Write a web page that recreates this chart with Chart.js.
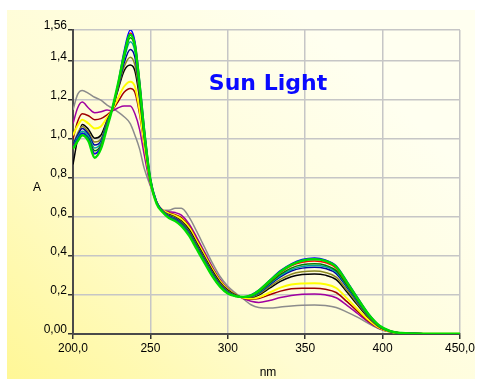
<!DOCTYPE html>
<html>
<head>
<meta charset="utf-8">
<script src="https://cdn.jsdelivr.net/npm/chart.js@4.4.1/dist/chart.umd.min.js"></script>
<style>
  html, body { margin: 0; padding: 0; background: #ffffff; }
  #spectra { display: block; }
</style>
</head>
<body>
<canvas id="spectra" width="483" height="379"></canvas>
<script>
"use strict";

// wavelength grid (nm) shared by all scans
const wavelengths = [200, 203, 206, 210, 214, 218, 222, 225, 229, 233, 237,
    240, 243, 246, 250, 254, 258,
    262, 266, 270, 275, 280, 285, 290, 295, 300, 305, 310,
    315, 320, 327, 334, 341, 348, 356, 363, 370, 377, 384, 391, 398, 405, 412, 420, 435, 450];

// absorbance of each scan, named after its trace colour
const absGreen = [0.95, 0.99, 1.02, 0.99, 0.905, 0.95, 1.06, 1.145, 1.28, 1.43, 1.535,
    1.48, 1.28, 1.04, 0.79, 0.67, 0.625,
    0.595, 0.58, 0.555, 0.505, 0.435, 0.365, 0.297, 0.243, 0.208, 0.194, 0.19,
    0.198, 0.222, 0.272, 0.32, 0.355, 0.376, 0.383, 0.375, 0.345, 0.265, 0.18, 0.1, 0.042, 0.015, 0.005, 0.002, 0.001, 0.001];
const absBlue = [0.96, 1.00, 1.03, 1.00, 0.925, 0.96, 1.07, 1.145, 1.28, 1.45, 1.56,
    1.50, 1.30, 1.06, 0.80, 0.68, 0.63,
    0.60, 0.585, 0.56, 0.51, 0.44, 0.37, 0.30, 0.245, 0.21, 0.195, 0.19,
    0.20, 0.225, 0.275, 0.325, 0.36, 0.382, 0.39, 0.38, 0.35, 0.27, 0.185, 0.103, 0.043, 0.015, 0.005, 0.002, 0.001, 0.001];
const absRed = [0.97, 0.99, 1.02, 0.995, 0.925, 0.96, 1.07, 1.145, 1.27, 1.43, 1.545,
    1.49, 1.29, 1.05, 0.795, 0.675, 0.63,
    0.60, 0.585, 0.56, 0.51, 0.44, 0.37, 0.30, 0.245, 0.21, 0.195, 0.19,
    0.197, 0.22, 0.268, 0.315, 0.35, 0.368, 0.375, 0.367, 0.338, 0.26, 0.178, 0.099, 0.041, 0.015, 0.005, 0.002, 0.001, 0.001];
const absDarkGreen = [0.96, 1.00, 1.03, 1.005, 0.94, 0.97, 1.075, 1.145, 1.27, 1.42, 1.52,
    1.47, 1.28, 1.04, 0.79, 0.675, 0.63,
    0.60, 0.587, 0.563, 0.513, 0.443, 0.373, 0.303, 0.247, 0.211, 0.195, 0.189,
    0.195, 0.216, 0.262, 0.306, 0.338, 0.355, 0.36, 0.353, 0.325, 0.25, 0.171, 0.095, 0.04, 0.014, 0.005, 0.002, 0.001, 0.001];
const absTeal = [0.96, 1.01, 1.04, 1.015, 0.955, 0.98, 1.08, 1.145, 1.27, 1.41, 1.50,
    1.45, 1.27, 1.04, 0.79, 0.675, 0.63,
    0.603, 0.59, 0.566, 0.517, 0.447, 0.377, 0.307, 0.25, 0.213, 0.196, 0.189,
    0.194, 0.213, 0.257, 0.30, 0.33, 0.346, 0.352, 0.345, 0.318, 0.245, 0.167, 0.093, 0.039, 0.014, 0.005, 0.002, 0.001, 0.001];
const absNavy = [0.97, 1.02, 1.055, 1.025, 0.97, 0.99, 1.085, 1.145, 1.26, 1.39, 1.46,
    1.42, 1.25, 1.03, 0.79, 0.675, 0.63,
    0.606, 0.593, 0.57, 0.522, 0.452, 0.382, 0.312, 0.254, 0.216, 0.197, 0.189,
    0.193, 0.21, 0.252, 0.293, 0.323, 0.338, 0.343, 0.336, 0.31, 0.239, 0.163, 0.091, 0.038, 0.014, 0.005, 0.002, 0.001, 0.001];
const absOlive = [0.97, 1.03, 1.065, 1.035, 0.985, 1.00, 1.09, 1.145, 1.26, 1.37, 1.42,
    1.38, 1.23, 1.02, 0.79, 0.675, 0.63,
    0.61, 0.597, 0.575, 0.528, 0.458, 0.388, 0.318, 0.259, 0.22, 0.198, 0.188,
    0.19, 0.205, 0.243, 0.28, 0.307, 0.319, 0.323, 0.316, 0.292, 0.225, 0.154, 0.086, 0.036, 0.013, 0.005, 0.002, 0.001, 0.001];
const absBlack = [0.87, 1.00, 1.075, 1.05, 1.005, 1.02, 1.095, 1.145, 1.25, 1.35, 1.38,
    1.35, 1.21, 1.01, 0.785, 0.675, 0.63,
    0.613, 0.60, 0.58, 0.535, 0.465, 0.395, 0.325, 0.265, 0.225, 0.20, 0.188,
    0.188, 0.20, 0.235, 0.27, 0.294, 0.305, 0.308, 0.302, 0.279, 0.215, 0.147, 0.083, 0.035, 0.013, 0.004, 0.002, 0.001, 0.001];
const absYellow = [1.02, 1.07, 1.10, 1.08, 1.055, 1.065, 1.11, 1.145, 1.21, 1.27, 1.295,
    1.27, 1.15, 0.98, 0.78, 0.675, 0.635,
    0.618, 0.607, 0.59, 0.546, 0.476, 0.404, 0.333, 0.271, 0.228, 0.201, 0.186,
    0.182, 0.188, 0.213, 0.238, 0.254, 0.259, 0.26, 0.255, 0.236, 0.183, 0.126, 0.072, 0.031, 0.012, 0.004, 0.002, 0.001, 0.001];
const absMaroon = [1.00, 1.09, 1.13, 1.12, 1.10, 1.105, 1.125, 1.145, 1.19, 1.24, 1.26,
    1.24, 1.13, 0.97, 0.78, 0.675, 0.635,
    0.622, 0.612, 0.597, 0.553, 0.483, 0.41, 0.338, 0.275, 0.23, 0.202, 0.185,
    0.178, 0.182, 0.201, 0.22, 0.232, 0.235, 0.235, 0.23, 0.213, 0.166, 0.115, 0.066, 0.029, 0.011, 0.004, 0.002, 0.001, 0.001];
const absPurple = [1.08, 1.16, 1.19, 1.16, 1.135, 1.14, 1.15, 1.145, 1.16, 1.17, 1.17,
    1.13, 1.05, 0.92, 0.765, 0.675, 0.635,
    0.628, 0.623, 0.61, 0.565, 0.495, 0.42, 0.345, 0.28, 0.233, 0.203, 0.182,
    0.168, 0.162, 0.172, 0.187, 0.198, 0.204, 0.205, 0.201, 0.186, 0.147, 0.104, 0.061, 0.028, 0.011, 0.004, 0.002, 0.001, 0.001];
const absGray = [1.15, 1.23, 1.25, 1.235, 1.215, 1.20, 1.175, 1.16, 1.14, 1.115, 1.08,
    1.02, 0.95, 0.85, 0.76, 0.68, 0.635,
    0.635, 0.645, 0.645, 0.60, 0.525, 0.445, 0.365, 0.295, 0.245, 0.21, 0.18,
    0.15, 0.136, 0.133, 0.138, 0.144, 0.148, 0.149, 0.146, 0.136, 0.112, 0.085, 0.054, 0.026, 0.01, 0.004, 0.002, 0.001, 0.001];

// axis ticks and their printed labels
const xTicks = [200, 250, 300, 350, 400, 450];
const xTickLabels = ['200,0', '250', '300', '350', '400', '450,0'];
const yTicks = [0, 0.2, 0.4, 0.6, 0.8, 1.0, 1.2, 1.4, 1.56];
const yTickLabels = ['0,00', '0,2', '0,4', '0,6', '0,8', '1,0', '1,2', '1,4', '1,56'];

const FONT = "'Liberation Sans', Arial, sans-serif";

// first entry is drawn last, so green sits on top
const traces = [
    { values: absGreen, color: '#00dd00', width: 2.5 },
    { values: absBlue, color: '#0000ff', width: 1.5 },
    { values: absRed, color: '#ff0000', width: 1.5 },
    { values: absDarkGreen, color: '#008000', width: 1.5 },
    { values: absTeal, color: '#00a0a0', width: 1.5 },
    { values: absNavy, color: '#0000a0', width: 1.5 },
    { values: absOlive, color: '#8a8a20', width: 1.5 },
    { values: absBlack, color: '#000000', width: 1.5 },
    { values: absYellow, color: '#ffff00', width: 2 },
    { values: absMaroon, color: '#a00000', width: 1.5 },
    { values: absPurple, color: '#a000a0', width: 1.5 },
    { values: absGray, color: '#8c8c8c', width: 1.5 }
];

const datasets = traces.map(t => ({
    data: wavelengths.map((x, i) => ({ x: x, y: t.values[i] })),
    borderColor: t.color,
    borderWidth: t.width,
    pointRadius: 0,
    fill: false,
    cubicInterpolationMode: 'monotone'
}));

// yellow-to-cream panel behind the whole chart
const panelBackground = {
    id: 'panelBackground',
    beforeDraw(chart) {
        const ctx = chart.ctx;
        ctx.save();
        ctx.fillStyle = '#ffffff';
        ctx.fillRect(0, 0, chart.width, chart.height);
        const g = ctx.createLinearGradient(7, 379, 330, 40);
        g.addColorStop(0, '#fff796');
        g.addColorStop(0.45, '#fffcd2');
        g.addColorStop(1, '#fffff0');
        ctx.fillStyle = g;
        ctx.fillRect(7, 10, 468, 369);
        ctx.restore();
    }
};

// axis names and the caption inside the plot
const chartTexts = {
    id: 'chartTexts',
    afterDraw(chart) {
        const ctx = chart.ctx;
        ctx.save();
        ctx.fillStyle = '#000000';
        ctx.font = '12px ' + FONT;
        ctx.textAlign = 'center';
        ctx.textBaseline = 'middle';
        ctx.fillText('A', 37, 188);
        ctx.fillText('nm', 268, 373);
        ctx.fillStyle = '#0a0aff';
        ctx.font = "bold 22px 'DejaVu Sans', sans-serif";
        ctx.textBaseline = 'alphabetic';
        ctx.fillText('Sun Light', 268, 90);
        ctx.restore();
    }
};

new Chart(document.getElementById('spectra'), {
    type: 'line',
    data: { datasets: datasets },
    plugins: [panelBackground, chartTexts],
    options: {
        responsive: false,
        animation: false,
        layout: { padding: { left: 0, top: 30, right: 23, bottom: 0 } },
        plugins: {
            legend: { display: false },
            tooltip: { enabled: false }
        },
        scales: {
            x: {
                type: 'linear',
                min: 200,
                max: 450,
                afterBuildTicks: scale => { scale.ticks = xTicks.map(v => ({ value: v })); },
                afterFit: scale => { scale.height = 45; },
                ticks: {
                    autoSkip: false,
                    maxRotation: 0,
                    padding: 2,
                    color: '#000000',
                    font: { family: FONT, size: 12 },
                    callback: (v, i) => xTickLabels[i]
                },
                grid: { color: '#c6c6c6', lineWidth: 1.5, tickColor: '#333333', tickLength: 5 },
                border: { color: '#4a4a4a', width: 2 }
            },
            y: {
                min: 0,
                max: 1.56,
                afterBuildTicks: scale => { scale.ticks = yTicks.map(v => ({ value: v })); },
                afterFit: scale => { scale.width = 73; },
                ticks: {
                    autoSkip: false,
                    padding: 1,
                    labelOffset: -4,
                    color: '#000000',
                    font: { family: FONT, size: 12 },
                    callback: (v, i) => yTickLabels[i]
                },
                grid: { color: '#c6c6c6', lineWidth: 1.5, tickColor: '#333333', tickLength: 5 },
                border: { color: '#4a4a4a', width: 2 }
            }
        }
    }
});
</script>
</body>
</html>
